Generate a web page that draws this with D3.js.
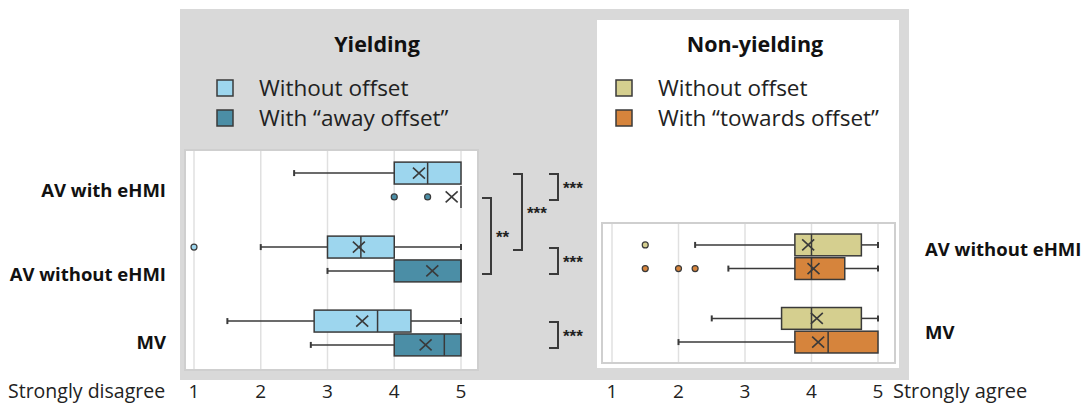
<!DOCTYPE html>
<html>
<head>
<meta charset="utf-8">
<script src="https://cdn.jsdelivr.net/npm/d3@7"></script>
<style>
  body { margin: 0; background: #fff; }
  svg { font-family: "Open Sans", Lato, sans-serif; }
</style>
</head>
<body>
<svg id="chart" width="1088" height="408"></svg>
<script>
// ---- data ----
const ticks = [1, 2, 3, 4, 5]
const yieldCats = ["AV with eHMI", "AV without eHMI", "MV"]
const nonYieldCats = ["AV without eHMI", "MV"]

// [min, q1, median, q3, max]
const yieldNoOffset = [[2.5, 4, 4.5, 5, 5], [2, 3, 3.5, 4, 5], [1.5, 2.8, 3.75, 4.25, 5]]
const yieldNoOffsetMean = [4.37, 3.47, 3.52]
const yieldNoOffsetOut = [[], [1], []]
const yieldAway = [[5, 5, 5, 5, 5], [3, 4, 5, 5, 5], [2.75, 4, 4.75, 5, 5]]
const yieldAwayMean = [4.86, 4.57, 4.47]
const yieldAwayOut = [[4, 4.5], [], []]

const nonNoOffset = [[2.25, 3.75, 4, 4.75, 5], [2.5, 3.55, 4, 4.75, 5]]
const nonNoOffsetMean = [3.95, 4.08]
const nonNoOffsetOut = [[1.5], []]
const nonTowards = [[2.75, 3.75, 4, 4.5, 5], [2, 3.75, 4.25, 5, 5]]
const nonTowardsMean = [4.03, 4.1]
const nonTowardsOut = [[1.5, 2, 2.25], []]

const yieldLegend = ["Without offset", "With \u201caway offset\u201d"]
const nonLegend = ["Without offset", "With \u201ctowards offset\u201d"]
const yieldColors = ["#9dd6ee", "#4b8ea6"]
const nonColors = ["#d5cf8f", "#d6843c"]

// significance brackets: [cat a, series a, cat b, series b, label, level]
const brackets = [
  [0, 0, 0, 1, "***", 2],
  [0, 0, 1, 0, "***", 1],
  [0, 1, 1, 1, "**", 0],
  [1, 0, 1, 1, "***", 2],
  [2, 0, 2, 1, "***", 2]
]

const svg = d3.select("#chart")
const ink = "#3a3a3a"

// gray backdrop + white non-yielding panel
svg.append("rect").attr("x", 180).attr("y", 9).attr("width", 729).attr("height", 371).attr("fill", "#d9d9d9")
svg.append("rect").attr("x", 597).attr("y", 20).attr("width", 302).attr("height", 348).attr("fill", "#fff")

function drawPanel(opt) {
  let x = d3.scaleLinear().domain([1, 5]).range(opt.xr)
  let y = d3.scaleBand().domain(opt.cats).range(opt.yr)
  let sub = d3.scaleBand().domain([0, 1]).range([y.step() * 0.165, y.step() * 0.835]).padding(0.08)
  let g = svg.append("g")

  g.append("rect").attr("x", opt.area[0]).attr("y", opt.area[1])
    .attr("width", opt.area[2] - opt.area[0]).attr("height", opt.area[3] - opt.area[1])
    .attr("fill", "#fff").attr("stroke", "#cfcfcf").attr("stroke-width", 2)

  g.selectAll(".grid").data(ticks).enter().append("line")
    .attr("x1", d => x(d)).attr("x2", d => x(d))
    .attr("y1", opt.area[1] + 1).attr("y2", opt.area[3] - 1)
    .attr("stroke", "#e0e0e0").attr("stroke-width", 1.5)

  let rows = []
  opt.series.forEach((s, si) => {
    s.stats.forEach((st, ci) => {
      rows.push({ st: st, mean: s.mean[ci], out: s.out[ci], color: s.color,
        yc: y(opt.cats[ci]) + sub(si) + sub.bandwidth() / 2, h: sub.bandwidth() })
    })
  })

  rows.forEach(r => {
    let [mn, q1, md, q3, mx] = r.st
    let top = r.yc - r.h / 2
    // whiskers
    if (mn < q1) {
      g.append("line").attr("x1", x(mn)).attr("x2", x(q1)).attr("y1", r.yc).attr("y2", r.yc).attr("stroke", ink).attr("stroke-width", 1.5)
      g.append("line").attr("x1", x(mn)).attr("x2", x(mn)).attr("y1", r.yc - 3).attr("y2", r.yc + 3).attr("stroke", ink).attr("stroke-width", 2)
    }
    if (mx > q3) {
      g.append("line").attr("x1", x(q3)).attr("x2", x(mx)).attr("y1", r.yc).attr("y2", r.yc).attr("stroke", ink).attr("stroke-width", 1.5)
      g.append("line").attr("x1", x(mx)).attr("x2", x(mx)).attr("y1", r.yc - 3).attr("y2", r.yc + 3).attr("stroke", ink).attr("stroke-width", 2)
    }
    if (q3 > q1) {
      g.append("rect").attr("x", x(q1)).attr("y", top).attr("width", x(q3) - x(q1)).attr("height", r.h)
        .attr("fill", r.color).attr("stroke", ink).attr("stroke-width", 1.5)
    }
    g.append("line").attr("x1", x(md)).attr("x2", x(md)).attr("y1", top).attr("y2", top + r.h).attr("stroke", ink).attr("stroke-width", 1.5)
    // mean marker
    let mx0 = x(r.mean), s = 6, t = 5.5
    g.append("path").attr("d", `M${mx0 - s},${r.yc - t}L${mx0 + s},${r.yc + t}M${mx0 - s},${r.yc + t}L${mx0 + s},${r.yc - t}`)
      .attr("stroke", ink).attr("stroke-width", 1.6).attr("fill", "none")
    // outliers
    g.selectAll(null).data(r.out).enter().append("circle")
      .attr("cx", d => x(d)).attr("cy", r.yc).attr("r", 3)
      .attr("fill", r.color).attr("stroke", ink).attr("stroke-width", 1.2)
  })

  // tick labels
  svg.selectAll(null).data(ticks).enter().append("text")
    .attr("x", d => x(d)).attr("y", 398).attr("text-anchor", "middle")
    .attr("font-size", 19).attr("fill", "#222").text(d => d)

  // category labels
  svg.selectAll(null).data(opt.cats).enter().append("text")
    .attr("x", opt.labelX).attr("y", (d, i) => opt.labelY[i])
    .attr("text-anchor", opt.labelAnchor).attr("font-weight", "bold")
    .attr("font-size", 18.5).attr("fill", "#111").text(d => d)

  // title + legend
  svg.append("text").attr("x", opt.titleX).attr("y", 52).attr("text-anchor", "middle")
    .attr("font-weight", "bold").attr("font-size", 21.5).attr("fill", "#111").text(opt.title)
  opt.legend.forEach((t, i) => {
    svg.append("rect").attr("x", opt.legX).attr("y", 80 + i * 30).attr("width", 16).attr("height", 16)
      .attr("fill", opt.series[i].color).attr("stroke", ink).attr("stroke-width", 1.5)
    svg.append("text").attr("x", opt.legX + 42).attr("y", 96 + i * 30)
      .attr("font-size", 22.5).attr("fill", "#222").text(t)
  })

  return { x: x, y: y, sub: sub }
}

let left = drawPanel({
  cats: yieldCats, xr: [194, 461], yr: [148, 370], area: [185, 150, 478, 370],
  series: [
    { stats: yieldNoOffset, mean: yieldNoOffsetMean, out: yieldNoOffsetOut, color: yieldColors[0] },
    { stats: yieldAway, mean: yieldAwayMean, out: yieldAwayOut, color: yieldColors[1] }
  ],
  labelX: 166, labelAnchor: "end", labelY: [197, 281, 349],
  title: "Yielding", titleX: 377, legX: 217, legend: yieldLegend
})

drawPanel({
  cats: nonYieldCats, xr: [612, 878], yr: [220, 367], area: [602, 223, 895, 363],
  series: [
    { stats: nonNoOffset, mean: nonNoOffsetMean, out: nonNoOffsetOut, color: nonColors[0] },
    { stats: nonTowards, mean: nonTowardsMean, out: nonTowardsOut, color: nonColors[1] }
  ],
  labelX: 925, labelAnchor: "start", labelY: [256, 339],
  title: "Non-yielding", titleX: 755, legX: 616, legend: nonLegend
})

svg.append("text").attr("x", 8).attr("y", 398).attr("font-size", 19.5).attr("fill", "#222").text("Strongly disagree")
svg.append("text").attr("x", 893).attr("y", 398).attr("font-size", 20).attr("fill", "#222").text("Strongly agree")

// significance brackets
const levelX = [482, 513, 549]
const yOf = (c, s) => left.y(yieldCats[c]) + left.sub(s) + left.sub.bandwidth() / 2
brackets.forEach(b => {
  let y1 = yOf(b[0], b[1]) + 1, y2 = yOf(b[2], b[3]) + 3
  let x0 = levelX[b[5]], x1 = x0 + 9
  svg.append("path").attr("d", `M${x0},${y1}H${x1}V${y2}H${x0}`)
    .attr("fill", "none").attr("stroke", ink).attr("stroke-width", 2)
  svg.append("text").attr("x", x1 + 5).attr("y", (y1 + y2) / 2 + 7)
    .attr("font-family", "Liberation Sans").attr("font-size", 17).attr("font-weight", "bold")
    .attr("fill", "#222").text(b[4])
})
</script>
</body>
</html>
